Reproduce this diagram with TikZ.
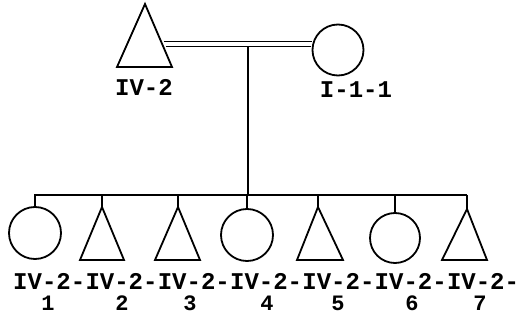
\documentclass[tikz,border=0pt]{standalone}
\usepackage{fontspec}
\setmonofont{Liberation Mono}
\begin{document}
\begin{tikzpicture}[x=1pt,y=-1pt,
  ln/.style={line width=1.8pt,black},
  female/.style={circle,draw,line width=1.8pt,inner sep=0pt},
  lbl/.style={font=\ttfamily\bfseries\fontsize{24}{24}\selectfont,inner sep=0pt},
  num/.style={font=\ttfamily\bfseries\fontsize{22}{22}\selectfont,inner sep=0pt}]
\useasboundingbox (0,0) rectangle (525,326);
% top generation
\coordinate (pA) at (145,4);
\draw[ln,line join=miter] (pA) -- (172,67) -- (117,67) -- cycle;
\node[female,minimum size=51pt] (pB) at (338,50) {};
\coordinate (dl) at (164,41.5);
\coordinate (dl2) at (166,46.5);
\draw[ln] (dl) -- (dl -| pB.west);
\draw[ln] (dl2) -- ([xshift=-1pt]dl2 -| pB.west);
\coordinate (mid) at (248,46.5);
\coordinate (sib) at (248,195);
\draw[ln] (mid) -- (sib);
\node[lbl] (lA) at (144,87) {IV-2};
\node[lbl] (lB) at (356,90) {I-1-1};
% sibling line
\coordinate (sL) at (34,195);
\coordinate (sR) at (467,195);
\draw[ln] (sL) -- (sR);
% children
\node[female,minimum size=52pt] (c1) at (35,233) {};
\node[female,minimum size=52pt] (c4) at (247,235) {};
\node[female,minimum size=50pt] (c6) at (395,238) {};
\coordinate (c2) at (102,207);
\coordinate (c3) at (178,207);
\coordinate (c5) at (318,207);
\coordinate (c7) at (467,209);
\draw[ln,line join=miter] (c2) -- (124,260) -- (80,260) -- cycle;
\draw[ln,line join=miter] (c3) -- (200,260) -- (155,260) -- cycle;
\draw[ln,line join=miter] (c5) -- (343,260) -- (297,260) -- cycle;
\draw[ln,line join=miter] (c7) -- (487,260) -- (442,260) -- cycle;
\coordinate (d1) at (35,195);
\coordinate (d2) at (102,195);
\coordinate (d3) at (178,195);
\coordinate (d4) at (247,195);
\coordinate (d5) at (318,195);
\coordinate (d6) at (395,195);
\coordinate (d7) at (467,195);
\draw[ln] (d1) -- (c1.north);
\draw[ln] (d2) -- (c2);
\draw[ln] (d3) -- (c3);
\draw[ln] (d4) -- (c4.north);
\draw[ln] (d5) -- (c5);
\draw[ln] (d6) -- (c6.north);
\draw[ln] (d7) -- (c7);
% labels
\foreach \i/\nx in {1/48,2/122,3/190,4/267,5/338,6/412,7/480}{
  \node[lbl,anchor=west] (t\i) at ({13+72.3*(\i-1)},281) {IV-2-};
  \node[num] (n\i) at (\nx,303) {\i};
}
\end{tikzpicture}
\end{document}
